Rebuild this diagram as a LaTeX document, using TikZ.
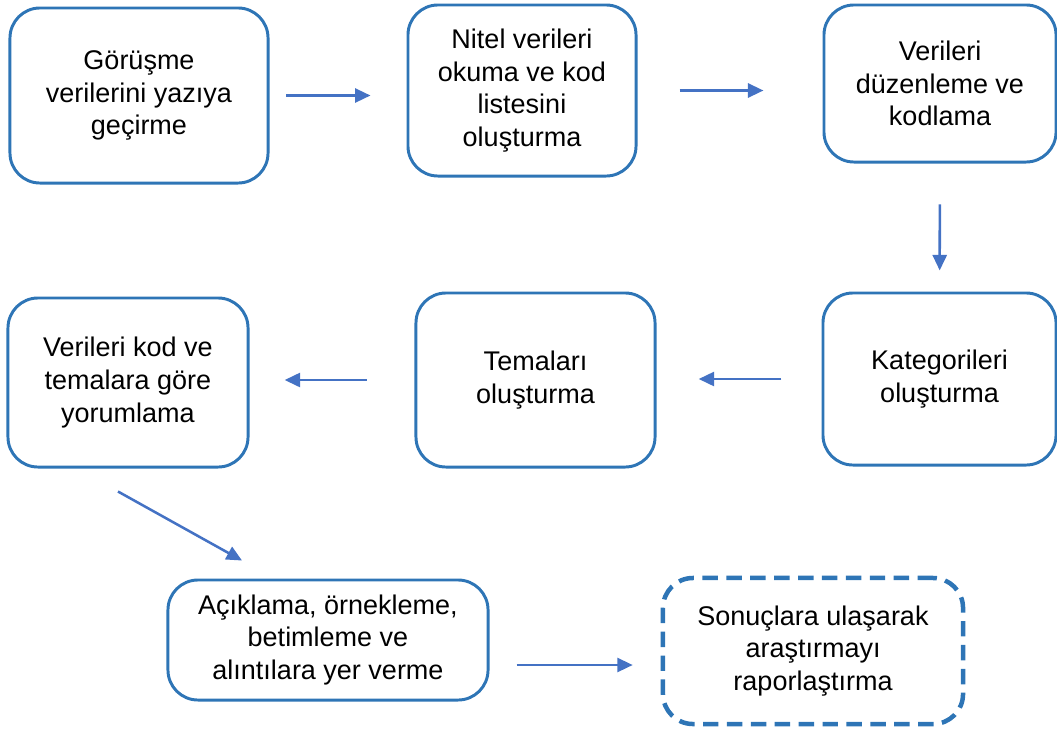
\documentclass[tikz,border=0pt]{standalone}
\usepackage{fontspec}
\setmainfont{Liberation Sans}
\usetikzlibrary{arrows.meta,calc}
\definecolor{boxblue}{RGB}{46,117,182}
\definecolor{arrowblue}{RGB}{68,114,196}
\tikzset{
  stepbox/.style={draw=boxblue, line width=2.1pt, rounded corners=0.75cm,
    align=center, inner sep=0pt, font=\fontsize{19.2}{23.2}\selectfont},
  endbox/.style={stepbox, line width=3.2pt, dash pattern=on 11pt off 6pt},
  flow/.style={draw=arrowblue, line width=1.8pt, -{Triangle[length=11pt,width=10pt]}}
}
\begin{document}
\begin{tikzpicture}[x=0.025cm,y=-0.025cm]
  \useasboundingbox (0,0) rectangle (1057,731);
  \node[stepbox, minimum width=6.45cm, minimum height=4.375cm] (b1) at (139,95.5) {Görüşme\\verilerini yazıya\\geçirme};
  \node[stepbox, minimum width=5.7cm, minimum height=4.275cm] (b2) at (522,90.5) {Nitel verileri\\okuma ve kod\\listesini\\oluşturma};
  \node[stepbox, minimum width=5.8cm, minimum height=3.925cm] (b3) at (940,83.5) {Verileri\\düzenleme ve\\kodlama};
  \node[stepbox, minimum width=5.825cm, minimum height=4.3cm] (b6) at (939.5,379) {Kategorileri\\oluşturma};
  \node[stepbox, minimum width=5.975cm, minimum height=4.35cm] (b5) at (535.5,380) {Temaları\\oluşturma};
  \node[stepbox, minimum width=6cm, minimum height=4.225cm] (b4) at (128,382.5) {Verileri kod ve\\temalara göre\\yorumlama};
  \node[stepbox, minimum width=8cm, minimum height=3cm] (b7) at (328,640) {Açıklama, örnekleme,\\betimleme ve\\alıntılara yer verme};
  \node[endbox, minimum width=7.5cm, minimum height=3.65cm] (b8) at (813,651) {Sonuçlara ulaşarak\\araştırmayı\\raporlaştırma};
  \draw [flow, shorten <=12pt, shorten >=25.6pt] (b1) -- (b1 -| b2.west);
  \draw [flow, shorten <=30pt, shorten >=42pt] (b2) -- (b2 -| b3.west);
  \draw [flow, shorten <=29pt, shorten >=15pt] (b3) -- (b6);
  \draw [flow, shorten <=28.5pt, shorten >=30pt] (b6) -- (b6 -| b5.east);
  \draw [flow, shorten <=34pt, shorten >=25pt] (b5) -- (b5 -| b4.east);
  \draw [flow] ($(b4.south)+(-10,23)$) -- ($(b7.north)+(-86,-18)$);
  \draw [flow] ($(b7.east)+(27,25)$) -- ($(b8.west)+(-28,14)$);
\end{tikzpicture}
\end{document}
